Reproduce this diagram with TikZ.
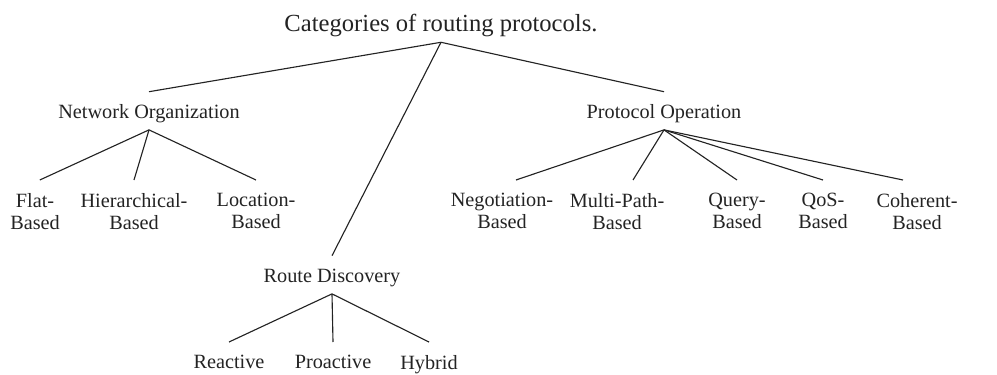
\documentclass[tikz,border=0pt]{standalone}
\usepackage{fontspec}
\setmainfont{Liberation Serif}
\usepackage{tikz}

\definecolor{ink}{RGB}{35,35,35}

\begin{document}
\begin{tikzpicture}[x=0.025cm,y=-0.025cm,
  every node/.style={text=ink},
  head/.style={anchor=base,inner sep=0pt,text depth=0.25cm,font=\fontsize{17.5}{20}\selectfont},
  group/.style={anchor=base,inner sep=0pt,text height=0.65cm,text depth=0.29cm,font=\fontsize{14.4}{16}\selectfont},
  leaf/.style={anchor=north,align=center,inner xsep=0pt,inner ysep=0.33cm,font=\fontsize{14.4}{15.6}\selectfont},
  link/.style={draw=ink,line width=0.8pt}]
\useasboundingbox (0,0) rectangle (997,374);
% root and the three groups
\node[head] (cat) at (441,32) {Categories of routing protocols.};
\node[group] (net) at (149,118) {Network Organization};
\node[group] (proto) at (664,118) {Protocol Operation};
\node[group] (route) at (332,282) {Route Discovery};
% leaves
\node[leaf] (flat) at (35,180) {Flat-\\Based};
\node[leaf] (hier) at (134,180) {Hierarchical-\\Based};
\node[leaf] (loc) at (256,180) {Location-\\Based};
\node[leaf] (neg) at (502,180) {Negotiation-\\Based};
\node[leaf] (multi) at (617,180) {Multi-Path-\\Based};
\node[leaf] (query) at (737,180) {Query-\\Based};
\node[leaf] (qos) at (823,180) {QoS-\\Based};
\node[leaf] (coh) at (917,180) {Coherent-\\Based};
\node[leaf] (react) at (229,342) {Reactive};
\node[leaf] (proact) at (333,342) {Proactive};
\node[leaf] (hybrid) at (429,342) {Hybrid};
% links
\draw[link] (cat.south) -- (net.north);
\draw[link] (cat.south) -- (proto.north);
\draw[link] (cat.south) -- (route.north);
\draw[link] (net.south) -- ([xshift=0.12cm]flat.north);
\draw[link] (net.south) -- (hier.north);
\draw[link] (net.south) -- (loc.north);
\draw[link] (proto.south) -- ([xshift=0.35cm]neg.north);
\draw[link] (proto.south) -- ([xshift=0.4cm]multi.north);
\draw[link] (proto.south) -- (query.north);
\draw[link] (proto.south) -- (qos.north);
\draw[link] (proto.south) -- ([xshift=-0.35cm]coh.north);
\draw[link] (route.south) -- (react.north);
\draw[link] (route.south) -- (proact.north);
\draw[link] (route.south) -- (hybrid.north);
\end{tikzpicture}
\end{document}
